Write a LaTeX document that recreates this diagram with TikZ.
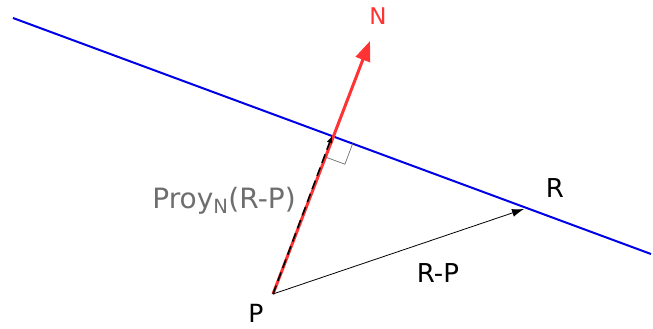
\documentclass[tikz,border=0pt]{standalone}
\usepackage{fontspec}
\setmainfont{DejaVu Sans}
\usetikzlibrary{arrows.meta,calc}
\definecolor{nred}{RGB}{255,51,51}
\definecolor{lblue}{RGB}{0,0,230}
\definecolor{lgray}{RGB}{110,110,110}
\tikzset{
  lbl/.style={font=\fontsize{26}{30}\selectfont, inner sep=0pt, anchor=base},
}
\begin{document}
\begin{tikzpicture}[x=1pt,y=-1pt]
\useasboundingbox (0,0) rectangle (653,329);
\coordinate (A) at (13,18);
\coordinate (B) at (651,254);
\coordinate (P) at (273,294);
\coordinate (R) at (524,209);
\coordinate (N) at (370,41);
\coordinate (I) at (332,136);
\draw[lblue, line width=2pt] (A) -- (B);
% right angle mark
\coordinate (u1) at ($(I)!22pt!(P)$);
\coordinate (u2) at ($(I)!22pt!(B)$);
\draw[lgray, line width=0.7pt] (u1) -- ($(u1)+(u2)-(I)$) -- (u2);
\draw[nred, line width=3pt, -{Triangle[length=20pt,width=15pt]}] (P) -- (N);
\draw[black, line width=1.6pt, dash pattern=on 9pt off 5pt, -{Latex[length=7pt,width=6pt]}] (P) -- (I);
\draw[black, line width=0.8pt, -{Latex[length=12pt,width=8pt]}] (P) -- (R);
\node[lbl, text=nred, font=\fontsize{23}{27}\selectfont] (nl) at (378,25) {N};
\node[lbl] (rl) at (555,197) {R};
\node[lbl] (rp) at (438,282) {R-P};
\node[lbl, text depth=0pt, font=\fontsize{25}{29}\selectfont] (pl) at (256,322) {P};
\node[lbl, text=lgray, font=\fontsize{28}{32}\selectfont] (proy) at (224,208) {Proy\textsubscript{N}(R-P)};
\end{tikzpicture}
\end{document}
